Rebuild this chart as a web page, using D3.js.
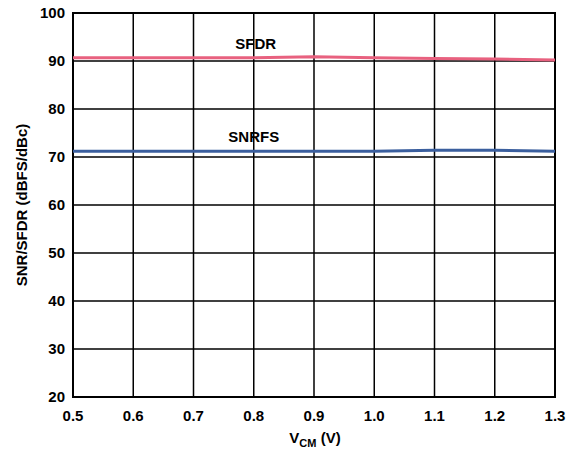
<!DOCTYPE html>
<html>
<head>
<meta charset="utf-8">
<script src="https://cdn.jsdelivr.net/npm/d3@7"></script>
<style>
  body { margin: 0; background: #fff; }
  text { font-family: "Liberation Sans", Arial, sans-serif; font-weight: bold; fill: #000; }
</style>
</head>
<body>
<div id="chart"></div>
<script>
// Dữ liệu
const vcm = [0.5, 0.6, 0.7, 0.8, 0.9, 1.0, 1.1, 1.2, 1.3];
const sfdr = [90.7, 90.7, 90.7, 90.7, 90.9, 90.7, 90.5, 90.4, 90.2];
const snrfs = [71.2, 71.2, 71.2, 71.2, 71.2, 71.2, 71.4, 71.4, 71.2];
const xTicks = [0.5, 0.6, 0.7, 0.8, 0.9, 1.0, 1.1, 1.2, 1.3];
const yTicks = [20, 30, 40, 50, 60, 70, 80, 90, 100];

const width = 570, height = 451;
const margin = { top: 13, right: 15, bottom: 54, left: 73 };
const w = width - margin.left - margin.right,
      h = height - margin.top - margin.bottom;

const svg = d3.select("#chart").append("svg")
    .attr("width", width)
    .attr("height", height);

const chart = svg.append("g")
    .attr("transform", `translate(${margin.left},${margin.top})`);

const x = d3.scaleLinear().domain([0.5, 1.3]).range([0, w]);
const y = d3.scaleLinear().domain([20, 100]).range([h, 0]);

// Lưới
chart.append("g")
    .selectAll("line")
    .data(xTicks)
    .enter().append("line")
    .attr("x1", d => x(d)).attr("x2", d => x(d))
    .attr("y1", 0).attr("y2", h)
    .attr("stroke", "#000").attr("stroke-width", 1.5);

chart.append("g")
    .selectAll("line")
    .data(yTicks)
    .enter().append("line")
    .attr("x1", 0).attr("x2", w)
    .attr("y1", d => y(d)).attr("y2", d => y(d))
    .attr("stroke", "#000").attr("stroke-width", 1.5);

chart.append("rect")
    .attr("width", w).attr("height", h)
    .attr("fill", "none").attr("stroke", "#000").attr("stroke-width", 2);

// Đường
const line = d3.line().x((d, i) => x(vcm[i])).y(d => y(d));

chart.append("path").datum(sfdr)
    .attr("d", line).attr("fill", "none")
    .attr("stroke", "#e8617f").attr("stroke-width", 3);

chart.append("path").datum(snrfs)
    .attr("d", line).attr("fill", "none")
    .attr("stroke", "#3b5f9e").attr("stroke-width", 3);

// Trục
chart.append("g")
    .selectAll("text")
    .data(xTicks)
    .enter().append("text")
    .attr("x", d => x(d)).attr("y", h + 24)
    .attr("text-anchor", "middle")
    .style("font-size", "15px")
    .text(d => d.toFixed(1));

chart.append("g")
    .selectAll("text")
    .data(yTicks)
    .enter().append("text")
    .attr("x", -8).attr("y", d => y(d))
    .attr("dy", "0.35em")
    .attr("text-anchor", "end")
    .style("font-size", "15px")
    .text(d => d);

// Nhãn
chart.append("text")
    .attr("x", x(0.8) + 2).attr("y", y(90.7) - 9)
    .attr("text-anchor", "middle")
    .style("font-size", "15px")
    .text("SFDR");

chart.append("text")
    .attr("x", x(0.8)).attr("y", y(71.2) - 9)
    .attr("text-anchor", "middle")
    .style("font-size", "15px")
    .text("SNRFS");

const xt = svg.append("text")
    .attr("x", 315).attr("y", 443)
    .attr("text-anchor", "middle")
    .style("font-size", "15px");
xt.append("tspan").text("V");
xt.append("tspan").attr("dy", 4).style("font-size", "11px").text("CM");
xt.append("tspan").attr("dy", -4).text(" (V)");

svg.append("text")
    .attr("transform", `translate(27,${margin.top + h / 2}) rotate(-90)`)
    .attr("text-anchor", "middle")
    .style("font-size", "15px")
    .text("SNR/SFDR (dBFS/dBc)");
</script>
</body>
</html>
